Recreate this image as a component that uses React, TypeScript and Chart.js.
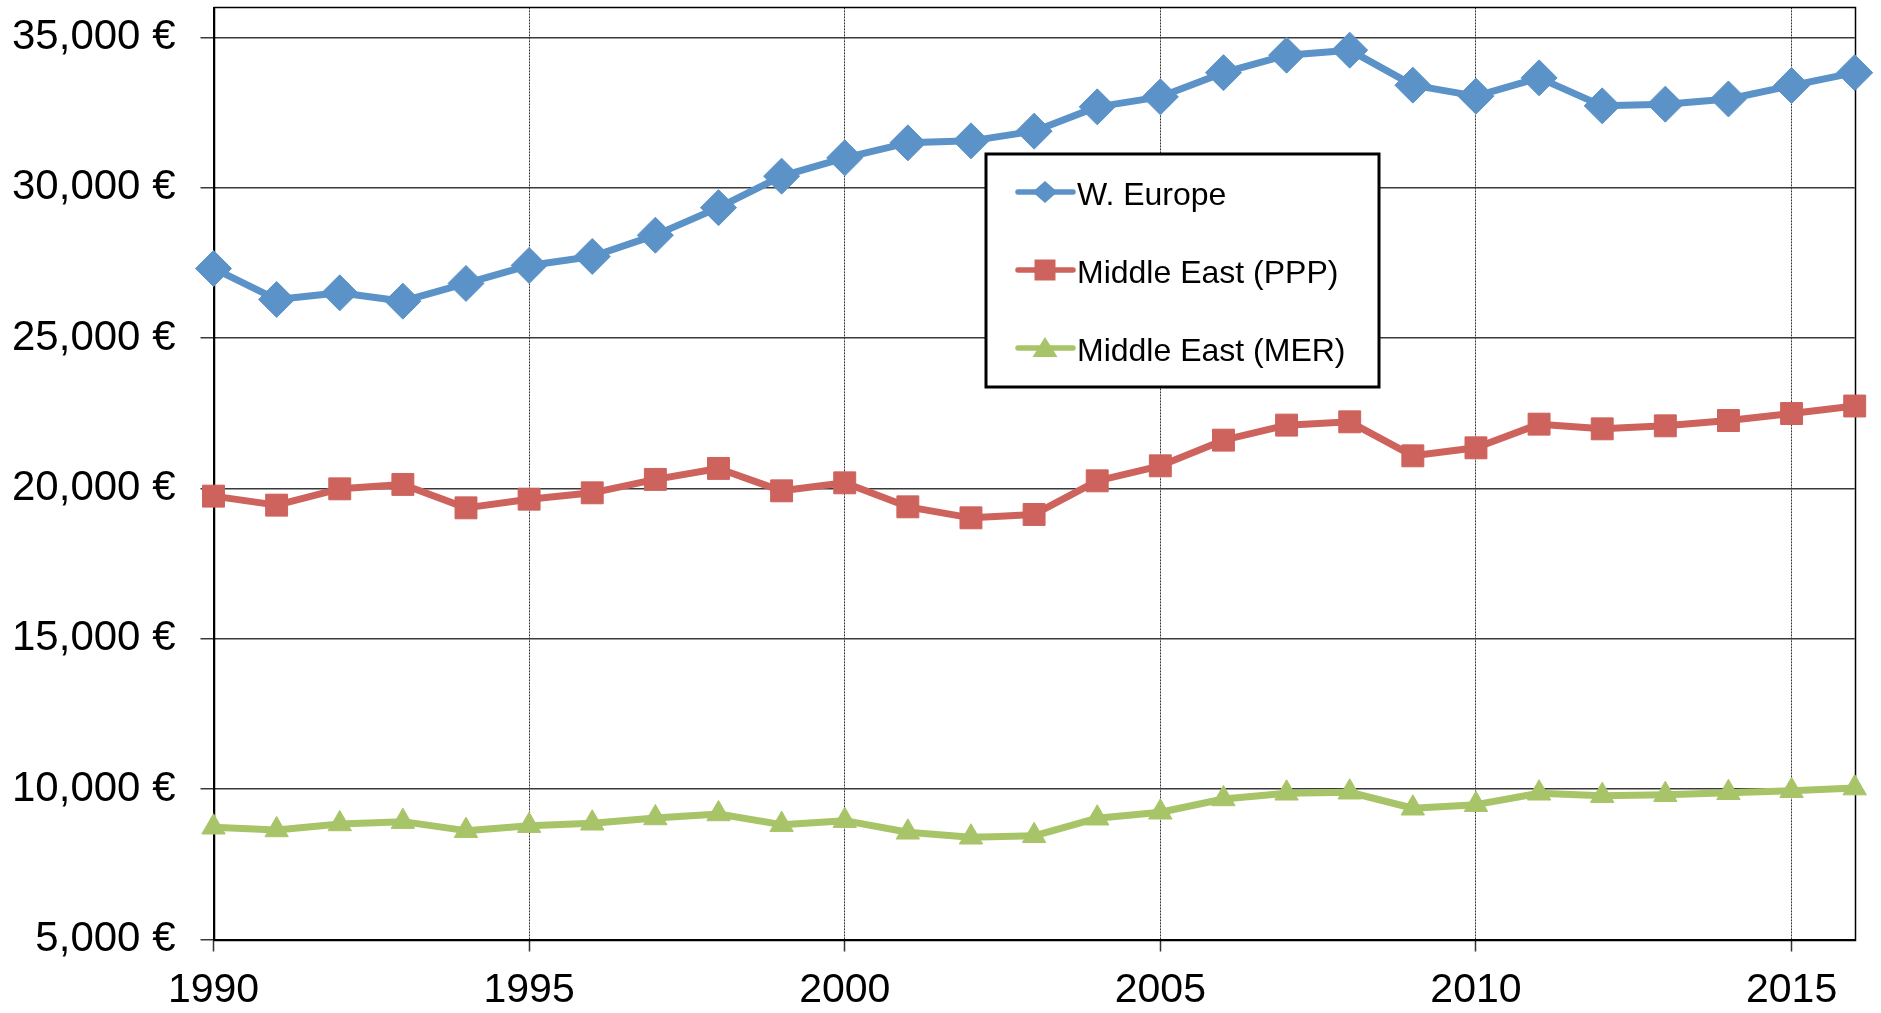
import React, { useEffect, useRef } from "react";
import { Chart, registerables } from "chart.js";

Chart.register(...registerables);

// ---------- data ----------
const years = [
  1990, 1991, 1992, 1993, 1994, 1995, 1996, 1997, 1998, 1999,
  2000, 2001, 2002, 2003, 2004, 2005, 2006, 2007, 2008, 2009,
  2010, 2011, 2012, 2013, 2014, 2015, 2016,
];
const wEurope = [
  27318, 26287, 26507, 26230, 26819, 27418, 27717, 28425, 29340, 30387,
  30997, 31495, 31561, 31884, 32692, 33025, 33830, 34411, 34578, 33414,
  33048, 33657, 32725, 32782, 32955, 33400, 33829,
];
const middleEastPPP = [
  19746, 19446, 19988, 20135, 19356, 19645, 19856, 20302, 20667, 19922,
  20188, 19390, 19024, 19136, 20255, 20754, 21608, 22107, 22217, 21086,
  21352, 22140, 21984, 22084, 22260, 22493, 22743,
];
const middleEastMER = [
  8733, 8643, 8843, 8920, 8620, 8786, 8866, 9042, 9175, 8820,
  8953, 8566, 8400, 8450, 9033, 9232, 9674, 9863, 9897, 9365,
  9485, 9863, 9784, 9817, 9880, 9948, 10035,
];
const seriesNames = ["W. Europe", "Middle East (PPP)", "Middle East (MER)"];
const xTickValues = [1990, 1995, 2000, 2005, 2010, 2015];
const yTickValues = [5000, 10000, 15000, 20000, 25000, 30000, 35000];

// ---------- styles ----------
const FONT = "'Liberation Sans', Arial, Helvetica, sans-serif";
const BLUE = "#5B92C8";
const RED = "#CD635C";
const GREEN = "#A8C468";

const toPoints = (vals: number[]) => vals.map((v, i) => ({ x: years[i], y: v }));

const framePlugin = {
  id: "plotFrame",
  beforeDatasetsDraw(chart: any) {
    const { ctx, chartArea: a } = chart;
    ctx.save();
    ctx.strokeStyle = "#000";
    ctx.lineWidth = 1.5;
    const l = Math.round(a.left) + 0.5;
    const t = Math.round(a.top) + 0.5;
    const r = Math.round(a.right) + 0.5;
    const b = Math.round(a.bottom) + 0.5;
    ctx.strokeRect(l, t, r - l, b - t);
    ctx.restore();
  },
};

function drawLegendMarker(ctx: CanvasRenderingContext2D, style: string, cx: number, cy: number, color: string) {
  ctx.fillStyle = color;
  ctx.beginPath();
  if (style === "rectRot") {
    ctx.moveTo(cx - 12.5, cy);
    ctx.lineTo(cx, cy - 11);
    ctx.lineTo(cx + 12.5, cy);
    ctx.lineTo(cx, cy + 11);
    ctx.closePath();
  } else if (style === "rect") {
    ctx.rect(cx - 10.5, cy - 10.5, 21, 21);
  } else {
    ctx.moveTo(cx, cy - 11);
    ctx.lineTo(cx + 12.5, cy + 9);
    ctx.lineTo(cx - 12.5, cy + 9);
    ctx.closePath();
  }
  ctx.fill();
}

const legendPlugin = {
  id: "boxLegend",
  afterDatasetsDraw(chart: any) {
    const { ctx } = chart;
    const bx = 986, by = 154, bw = 393, bh = 233;
    ctx.save();
    ctx.fillStyle = "#fff";
    ctx.fillRect(bx, by, bw, bh);
    ctx.strokeStyle = "#000";
    ctx.lineWidth = 3;
    ctx.strokeRect(bx, by, bw, bh);
    const rowY = [194, 272, 350];
    chart.data.datasets.forEach((ds: any, i: number) => {
      const y = rowY[i];
      ctx.strokeStyle = ds.borderColor;
      ctx.lineWidth = 5.5;
      ctx.lineCap = "round";
      ctx.beginPath();
      ctx.moveTo(bx + 32, y - 2);
      ctx.lineTo(bx + 87, y - 2);
      ctx.stroke();
      drawLegendMarker(ctx, ds.pointStyle, bx + 59, y - 2, ds.borderColor);
      ctx.fillStyle = "#000";
      ctx.font = `32px ${FONT}`;
      ctx.textBaseline = "middle";
      ctx.textAlign = "left";
      ctx.fillText(ds.label, bx + 91, y + 2);
    });
    ctx.restore();
  },
};

export default function App() {
  const canvasRef = useRef<HTMLCanvasElement | null>(null);

  useEffect(() => {
    const canvas = canvasRef.current;
    if (!canvas) return;
    const common = {
      borderWidth: 7,
      pointBorderWidth: 1,
      borderJoinStyle: "round" as const,
      borderCapStyle: "round" as const,
      tension: 0,
      clip: false as const,
    };
    const chart = new Chart(canvas, {
      type: "line",
      data: {
        datasets: [
          {
            ...common,
            label: seriesNames[0],
            data: toPoints(wEurope),
            borderColor: BLUE,
            backgroundColor: BLUE,
            pointBackgroundColor: BLUE,
            pointBorderColor: BLUE,
            pointStyle: "rectRot",
            pointRadius: 18,
          },
          {
            ...common,
            label: seriesNames[1],
            data: toPoints(middleEastPPP),
            borderColor: RED,
            backgroundColor: RED,
            pointBackgroundColor: RED,
            pointBorderColor: RED,
            pointStyle: "rect",
            pointRadius: 15.5,
          },
          {
            ...common,
            label: seriesNames[2],
            data: toPoints(middleEastMER),
            borderColor: GREEN,
            backgroundColor: GREEN,
            pointBackgroundColor: GREEN,
            pointBorderColor: GREEN,
            pointStyle: "triangle",
            pointRadius: 13.5,
          },
        ],
      },
      options: {
        responsive: false,
        animation: false,
        events: [],
        layout: { autoPadding: false, padding: { left: 0, top: 7.4, right: 26.3, bottom: 0 } },
        plugins: {
          legend: { display: false },
          tooltip: { enabled: false },
        },
        scales: {
          x: {
            type: "linear",
            min: years[0],
            max: years[years.length - 1],
            afterBuildTicks: (scale: any) => {
              scale.ticks = xTickValues.map((v) => ({ value: v }));
            },
            afterFit: (scale: any) => {
              scale.height = 73.5;
              scale.paddingLeft = 0;
              scale.paddingRight = 0;
            },
            ticks: {
              stepSize: 5,
              includeBounds: false,
              autoSkip: false,
              maxRotation: 0,
              padding: 15,
              color: "#000",
              font: { family: FONT, size: 41 },
              callback: (v: any) => String(v),
            },
            grid: {
              color: "#333",
              lineWidth: 1,
              tickLength: 12,
              tickColor: "#333",
              tickWidth: 1.5,
              tickBorderDash: [],
            },
            border: { display: true, color: "#000", width: 1.5, dash: [2, 1] },
          },
          y: {
            type: "linear",
            min: 5000,
            max: 36000,
            afterBuildTicks: (scale: any) => {
              scale.ticks = yTickValues.map((v) => ({ value: v }));
            },
            afterFit: (scale: any) => {
              scale.width = 213.5;
              scale.paddingTop = 0;
              scale.paddingBottom = 0;
            },
            ticks: {
              stepSize: 5000,
              includeBounds: false,
              autoSkip: false,
              padding: 25,
              color: "#000",
              font: { family: FONT, size: 42 },
              callback: (v: any) => `${Number(v).toLocaleString("en-US")} €`,
            },
            grid: {
              color: "#3a3a3a",
              lineWidth: 1.5,
              tickLength: 13,
              tickColor: "#3a3a3a",
            },
            border: { display: true, color: "#000", width: 1.5 },
          },
        },
      },
      plugins: [framePlugin, legendPlugin],
    } as any);
    return () => chart.destroy();
  }, []);

  return (
    <canvas
      ref={canvasRef}
      width={1881}
      height={1013}
      style={{ position: "absolute", left: 0, top: 0, display: "block", background: "#fff" }}
    />
  );
}
